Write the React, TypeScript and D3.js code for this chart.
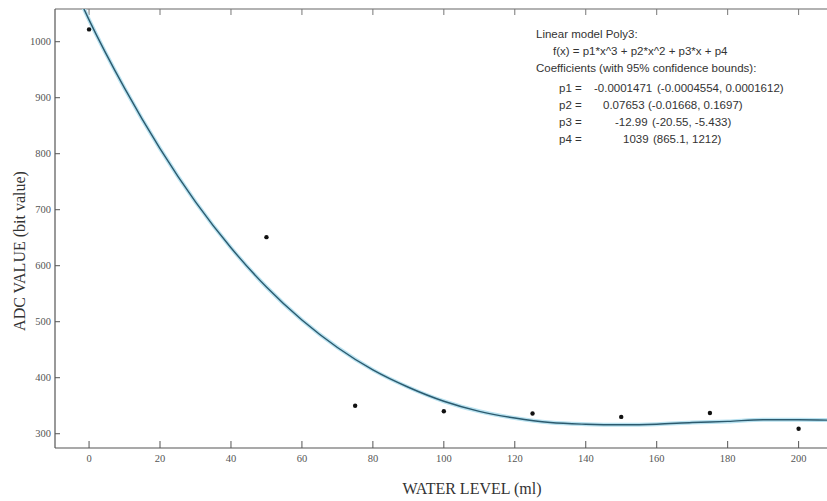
import React from 'react'
import * as d3 from 'd3'

// measured points (water level ml, ADC bit value)
const levels = [0, 50, 75, 100, 125, 150, 175, 200]
const adc = [1022, 651, 350, 340, 336, 330, 337, 309]

// fitted cubic
const fitX = [-2, 0, 10, 20, 30, 40, 50, 60, 70, 80, 90, 100, 110, 120, 130, 140, 150, 160, 170, 180, 190, 200, 210]
const fitY = [1066, 1039, 917, 809, 714, 632, 562, 503, 454, 414, 383, 358, 340, 328, 320, 317, 316, 317, 320, 322, 325, 325, 324]

const xTicks = [0, 20, 40, 60, 80, 100, 120, 140, 160, 180, 200]
const yTicks = [300, 400, 500, 600, 700, 800, 900, 1000]

const headerLines = [
  'Linear model Poly3:',
  'f(x) = p1*x^3 + p2*x^2 + p3*x + p4',
  'Coefficients (with 95% confidence bounds):',
]
const coefNames = ['p1 =', 'p2 =', 'p3 =', 'p4 =']
const coefValues = ['-0.0001471', '0.07653', '-12.99', '1039']
const coefBounds = ['(-0.0004554, 0.0001612)', '(-0.01668, 0.1697)', '(-20.55, -5.433)', '(865.1, 1212)']

export default function App() {
  const width = 827
  const height = 501
  const left = 55
  const top = 9
  const right = 827
  const bottom = 448

  const x = d3.scaleLinear().domain([-9.6, 208]).range([left, right])
  const y = d3.scaleLinear().domain([274.5, 1058.4]).range([bottom, top])

  const line = d3.line<number>()
    .x((_, i) => x(fitX[i]))
    .y((d) => y(d))
    .curve(d3.curveMonotoneX)
  const path = line(fitY) || ''

  const tickFont = '"Liberation Serif", serif'
  const noteFont = '"Liberation Sans", Arial, sans-serif'
  const headerX = [536, 553, 536]
  const headerY = [38, 55, 72]
  const coefY = [92, 109, 126, 143]
  const valueX = [594, 603, 615, 623]
  const boundX = [657, 648, 652, 653]

  return (
    <svg width={width} height={height} style={{ position: 'fixed', left: 0, top: 0, background: '#fff' }}>
      <defs>
        <clipPath id="plot">
          <rect x={left} y={top} width={right - left} height={bottom - top} />
        </clipPath>
      </defs>

      {/* axes frame */}
      <line x1={left} x2={right} y1={bottom} y2={bottom} stroke="#555" strokeWidth={1.2} />
      <line x1={left} x2={right} y1={top} y2={top} stroke="#666" strokeWidth={1.2} />
      <line x1={left} x2={left} y1={top} y2={bottom} stroke="#555" strokeWidth={1.2} />

      {xTicks.map((t) => (
        <g key={t}>
          <line x1={x(t)} x2={x(t)} y1={bottom} y2={bottom - 7} stroke="#555" />
          <line x1={x(t)} x2={x(t)} y1={top} y2={top + 6} stroke="#777" />
          <text x={x(t)} y={462} textAnchor="middle" fontFamily={tickFont} fontSize={10.5} fill="#555">{t}</text>
        </g>
      ))}
      {yTicks.map((t) => (
        <g key={t}>
          <line x1={left} x2={left + 5} y1={y(t)} y2={y(t)} stroke="#555" />
          <text x={51} y={y(t) + 3.5} textAnchor="end" fontFamily={tickFont} fontSize={10.5} fill="#555">{t}</text>
        </g>
      ))}

      <g clipPath="url(#plot)">
        <path d={path} fill="none" stroke="#b9e2f0" strokeWidth={4} />
        <path d={path} fill="none" stroke="#2b5a6e" strokeWidth={1.4} />
      </g>

      {levels.map((l, i) => (
        <circle key={l} cx={x(l)} cy={y(adc[i])} r={2.2} fill="#111" />
      ))}

      <text x={472} y={494} textAnchor="middle" fontFamily={tickFont} fontSize={16} fill="#333">WATER LEVEL (ml)</text>
      <text transform="translate(25,251) rotate(-90)" textAnchor="middle" fontFamily={tickFont} fontSize={16} fill="#333">ADC VALUE (bit value)</text>

      {headerLines.map((s, i) => (
        <text key={s} x={headerX[i]} y={headerY[i]} fontFamily={noteFont} fontSize={11.5} fill="#333">{s}</text>
      ))}
      {coefNames.map((n, i) => (
        <text key={n} y={coefY[i]} fontFamily={noteFont} fontSize={11.5} fill="#333">
          <tspan x={559}>{n}</tspan>
          <tspan x={valueX[i]}>{coefValues[i]}</tspan>
          <tspan x={boundX[i]}>{coefBounds[i]}</tspan>
        </text>
      ))}
    </svg>
  )
}
